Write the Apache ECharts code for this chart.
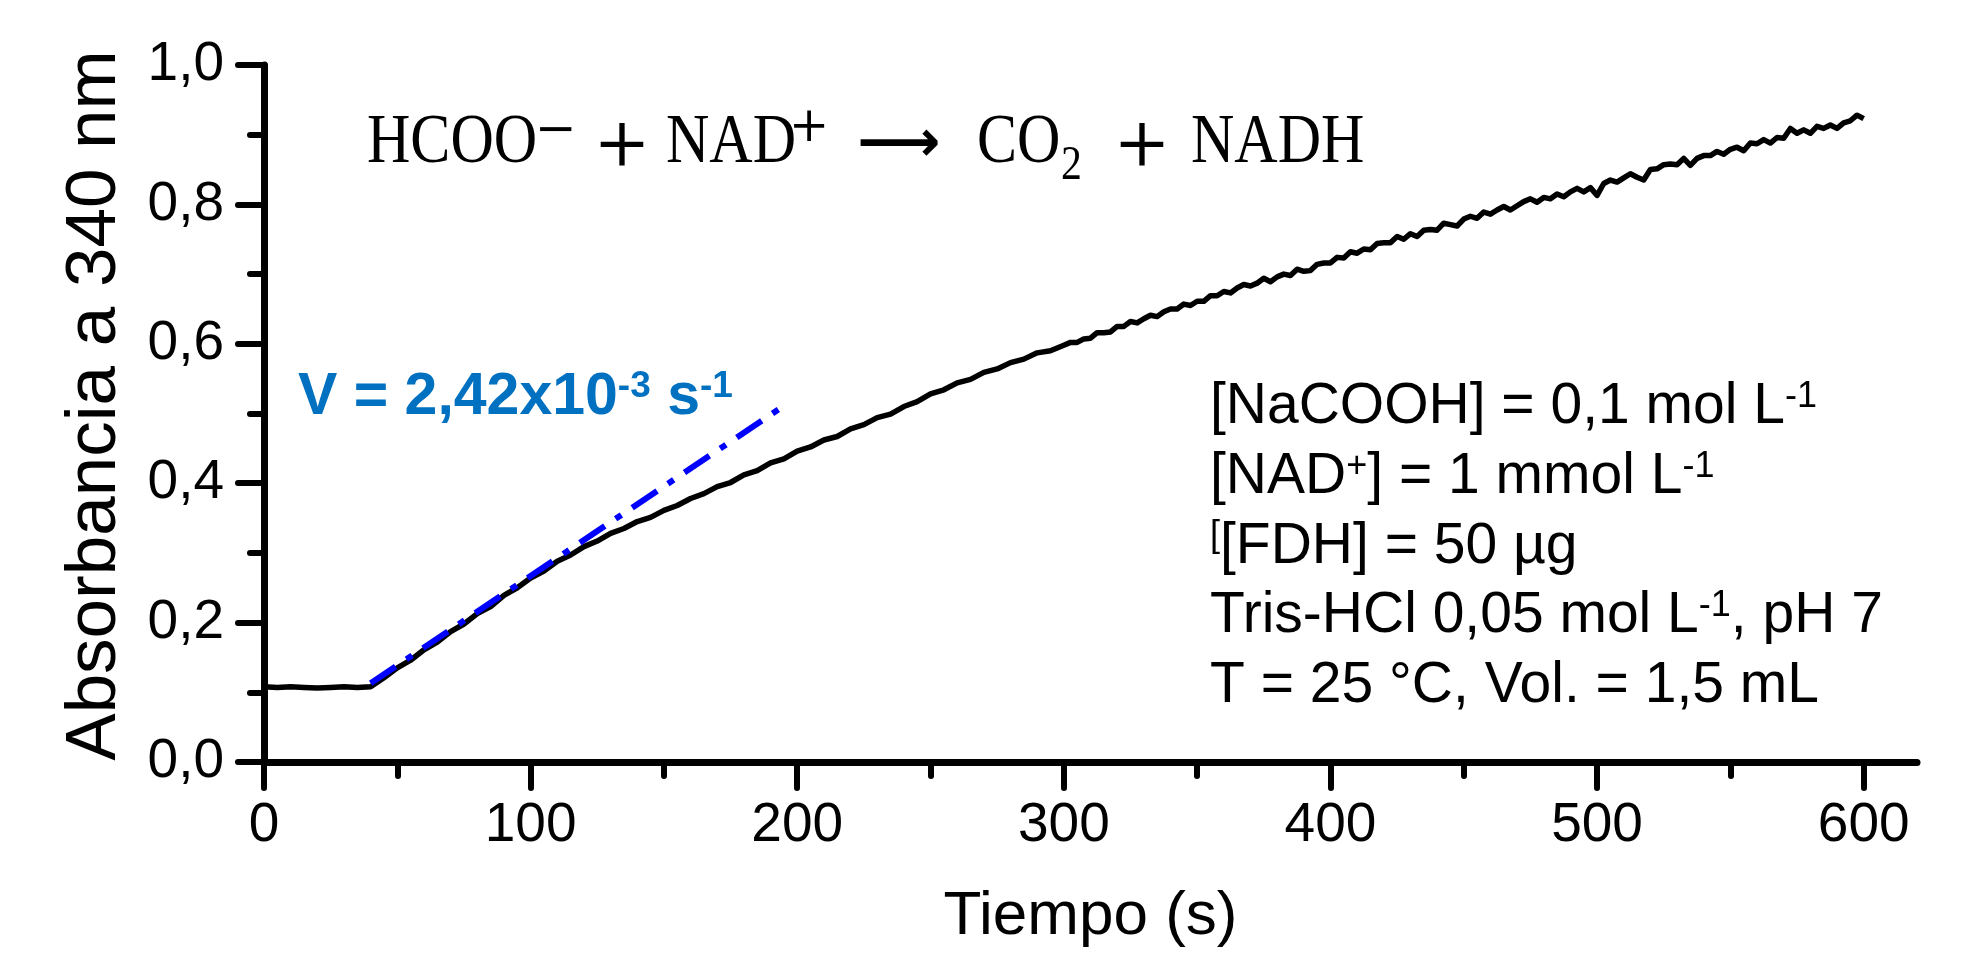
<!DOCTYPE html>
<html><head><meta charset="utf-8">
<script src="https://cdn.jsdelivr.net/npm/echarts@6/dist/echarts.min.js"></script>
<style>html,body{margin:0;padding:0;background:#fff}#c{width:1961px;height:954px}</style>
</head><body><div id="c"></div>
<script>
// ---- data ----
const tiempo = [
  0,5,10,15,20,25,30,35,40,45,50,55,60,65,70,75,80,85,90,95,
  100,105,110,115,120,125,130,135,140,145,150,155,160,165,170,175,180,185,190,195,
  200,205,210,215,220,225,230,235,240,245,250,255,260,265,270,275,280,285,290,295,300,
  302.5,305,307.5,310,312.5,315,317.5,320,322.5,325,327.5,330,332.5,335,337.5,340,342.5,345,347.5,350,
  352.5,355,357.5,360,362.5,365,367.5,370,372.5,375,377.5,380,382.5,385,387.5,390,392.5,395,397.5,400,
  402.5,405,407.5,410,412.5,415,417.5,420,422.5,425,427.5,430,432.5,435,437.5,440,442.5,445,447.5,450,
  452.5,455,457.5,460,462.5,465,467.5,470,472.5,475,477.5,480,482.5,485,487.5,490,492.5,495,497.5,500,
  502.5,505,507.5,510,512.5,515,517.5,520,522.5,525,527.5,530,532.5,535,537.5,540,542.5,545,547.5,550,
  552.5,555,557.5,560,562.5,565,567.5,570,572.5,575,577.5,580,582.5,585,587.5,590,592.5,595,597.5,600
];
const absorbancia = [
  0.108,0.107,0.108,0.107,0.106,0.107,0.108,0.107,0.108,0.121,0.135,0.146,0.161,0.172,0.187,0.198,0.213,0.223,0.239,0.250,
  0.264,0.274,0.288,0.297,0.309,0.317,0.328,0.335,0.345,0.351,0.361,0.368,0.378,0.385,0.395,0.401,0.412,0.418,0.429,0.435,
  0.446,0.452,0.462,0.467,0.478,0.484,0.494,0.499,0.510,0.517,0.528,0.534,0.544,0.549,0.559,0.564,0.573,0.578,0.587,0.590,0.598,
  0.602,0.602,0.607,0.608,0.616,0.616,0.617,0.625,0.625,0.632,0.630,0.636,0.641,0.639,0.646,0.650,0.650,0.657,0.655,0.661,
  0.661,0.669,0.669,0.675,0.673,0.680,0.685,0.683,0.687,0.694,0.689,0.696,0.700,0.698,0.707,0.704,0.705,0.714,0.716,0.716,
  0.724,0.723,0.732,0.730,0.736,0.735,0.744,0.745,0.745,0.754,0.750,0.758,0.754,0.763,0.764,0.763,0.773,0.771,0.769,0.779,
  0.783,0.780,0.789,0.786,0.792,0.797,0.792,0.798,0.804,0.808,0.803,0.810,0.808,0.815,0.811,0.818,0.823,0.818,0.824,0.813,
  0.830,0.835,0.832,0.838,0.844,0.839,0.835,0.850,0.851,0.857,0.858,0.857,0.866,0.856,0.866,0.870,0.870,0.876,0.872,0.879,
  0.882,0.877,0.888,0.887,0.893,0.888,0.896,0.895,0.909,0.902,0.907,0.902,0.912,0.909,0.914,0.909,0.917,0.920,0.928,0.923
];
const ajusteTiempo = [40, 195];
const ajusteAbs = [0.113, 0.511];
const xTicksMayor = [0, 100, 200, 300, 400, 500, 600];
const xTicksMenor = [50, 150, 250, 350, 450, 550];
const xNombre = 'Tiempo (s)';
const yNombre = 'Absorbancia a 340 nm';

// ---- chart ----
const SANS = 'Liberation Sans';
const SERIF = 'Liberation Serif';
const chart = echarts.init(document.getElementById('c'), null, {renderer: 'canvas'});

function txt(x, y, text, opt) {
  return Object.assign({
    type: 'text', x: x, y: y, silent: true, z: 100,
    style: Object.assign({
      text: text, fill: '#000', fontFamily: SANS, fontSize: 57,
      textAlign: 'left', align: 'left', textVerticalAlign: 'middle', verticalAlign: 'middle'
    }, opt.style || {})
  }, opt.el || {});
}

const eqSize = 69, eqScale = 0.87, eqBase = 165;
const eqY = eqBase - 0.305 * eqSize;

const richMain = {fontFamily: SANS, fontSize: 57, lineHeight: 57, verticalAlign: 'bottom', fill: '#000', color: '#000'};
const richSup = {fontFamily: SANS, fontSize: 36, lineHeight: 36, verticalAlign: 'top', fill: '#000', color: '#000'};
function richLine(x, baseline, text) {
  return {
    type: 'text', x: x, y: baseline - 46.2, silent: true, z: 100,
    style: {
      text: text, fill: '#000', fontFamily: SANS, fontSize: 57,
      textAlign: 'left', align: 'left', textVerticalAlign: 'top', verticalAlign: 'top',
      rich: {m: richMain, s: richSup}
    }
  };
}
const blockX = 1210, blockB = 425, blockStep = 69.8;

const blueMain = {fontFamily: SANS, fontSize: 59, fontWeight: 'bold', lineHeight: 59, verticalAlign: 'bottom', fill: '#0070C0', color: '#0070C0'};
const blueSup = {fontFamily: SANS, fontSize: 37, fontWeight: 'bold', lineHeight: 37, verticalAlign: 'top', fill: '#0070C0', color: '#0070C0'};

const option = {
  animation: false,
  backgroundColor: '#ffffff',
  grid: {left: 264, top: 65, right: 44, bottom: 192, containLabel: false, outerBoundsMode: 'none'},
  xAxis: [{
    type: 'value', min: 0, max: 620, interval: 100, position: 'bottom',
    name: xNombre, nameLocation: 'middle', nameGap: 124,
    nameTextStyle: {fontFamily: SANS, fontSize: 62, color: '#000'},
    axisLine: {show: true, onZero: false, lineStyle: {color: '#000', width: 7, cap: 'round'}},
    axisTick: {show: true, inside: false, length: 26, customValues: xTicksMayor, lineStyle: {color: '#000', width: 6, cap: 'round'}},
    axisLabel: {show: true, customValues: xTicksMayor, margin: 36, fontFamily: SANS, fontSize: 55, color: '#000',
      formatter: v => String(v)},
    splitLine: {show: false}
  }, {
    type: 'value', min: 0, max: 620, interval: 100, position: 'bottom',
    axisLine: {show: false},
    axisTick: {show: true, inside: false, length: 14, customValues: xTicksMenor, lineStyle: {color: '#000', width: 6, cap: 'round'}},
    axisLabel: {show: false},
    splitLine: {show: false}
  }],
  yAxis: {
    type: 'value', min: 0, max: 1.0, interval: 0.2,
    name: yNombre, nameLocation: 'middle', nameGap: 133,
    nameTextStyle: {fontFamily: SANS, fontSize: 71, color: '#000', padding: [0, 0, 0, 16]},
    axisLine: {show: true, onZero: false, lineStyle: {color: '#000', width: 7, cap: 'round'}},
    axisTick: {show: true, inside: false, length: 26, lineStyle: {color: '#000', width: 6, cap: 'round'}},
    minorTick: {show: true, splitNumber: 2, length: 14, lineStyle: {color: '#000', width: 6, cap: 'round'}},
    axisLabel: {margin: 40, fontFamily: SANS, fontSize: 55, color: '#000',
      formatter: v => v.toFixed(1).replace('.', ',')},
    splitLine: {show: false}, minorSplitLine: {show: false}
  },
  series: [{
    type: 'line', name: 'Absorbancia', xAxisIndex: 0,
    data: tiempo.map((t, i) => [t, absorbancia[i]]),
    showSymbol: false, symbol: 'none', smooth: false, z: 2,
    lineStyle: {color: '#000', width: 5.5, join: 'round'}
  }, {
    type: 'line', name: 'Ajuste', xAxisIndex: 0,
    data: ajusteTiempo.map((t, i) => [t, ajusteAbs[i]]),
    showSymbol: false, symbol: 'none', z: 3,
    lineStyle: {color: '#0000FF', width: 6, type: [30, 13, 7, 13], cap: 'butt'}
  }],
  graphic: [
    // reaction equation
    txt(367, eqY, 'HCOO', {style: {fontFamily: SERIF, fontSize: eqSize}, el: {scaleX: eqScale}}),
    txt(556, 132, '\u2212', {style: {fontFamily: 'DejaVu Serif', fontSize: 50, textAlign: 'center', align: 'center'}}),
    txt(622, 147, '+', {style: {fontFamily: 'DejaVu Serif', fontSize: 68, textAlign: 'center', align: 'center'}}),
    txt(666, eqY, 'NAD', {style: {fontFamily: SERIF, fontSize: eqSize}, el: {scaleX: eqScale}}),
    txt(809, 129, '+', {style: {fontFamily: 'DejaVu Serif', fontSize: 48, textAlign: 'center', align: 'center'}}),
    txt(899, 146, '\u27F6', {style: {fontFamily: 'DejaVu Sans', fontSize: 58, fontWeight: 'bold', textAlign: 'center', align: 'center'}}),
    txt(977, eqY, 'CO', {style: {fontFamily: SERIF, fontSize: eqSize}, el: {scaleX: eqScale}}),
    txt(1061, 181 - 0.305 * 48, '2', {style: {fontFamily: SERIF, fontSize: 48}, el: {scaleX: eqScale}}),
    txt(1142, 147, '+', {style: {fontFamily: 'DejaVu Serif', fontSize: 68, textAlign: 'center', align: 'center'}}),
    txt(1191, eqY, 'NADH', {style: {fontFamily: SERIF, fontSize: eqSize}, el: {scaleX: eqScale}}),
    // rate
    {
      type: 'text', x: 298, y: 416 - 48, silent: true, z: 100,
      style: {
        text: '{m|V = 2,42x10}{s|-3}{m| s}{s|-1}', fill: '#0070C0', fontFamily: SANS, fontSize: 59, fontWeight: 'bold',
        textAlign: 'left', align: 'left', textVerticalAlign: 'top', verticalAlign: 'top',
        rich: {m: blueMain, s: blueSup}
      }
    },
    // conditions
    richLine(blockX, blockB, '{m|[NaCOOH] = 0,1 mol L}{s|-1}'),
    richLine(blockX, blockB + blockStep, '{m|[NAD}{s|+}{m|] = 1 mmol L}{s|-1}'),
    richLine(blockX, blockB + 2 * blockStep, '{s|[}{m|[FDH] = 50 \u00B5g}'),
    richLine(blockX, blockB + 3 * blockStep, '{m|Tris-HCl 0,05 mol L}{s|-1}{m|, pH 7}'),
    richLine(blockX, blockB + 4 * blockStep, '{m|T = 25 \u00B0C, Vol. = 1,5 mL}')
  ]
};
chart.setOption(option);
</script>
</body></html>
